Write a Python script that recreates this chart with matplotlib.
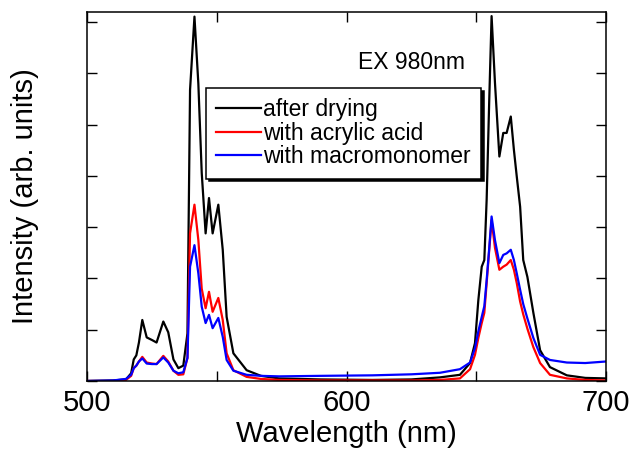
import matplotlib
matplotlib.use('Agg')
import matplotlib.pyplot as plt
from matplotlib.ticker import MultipleLocator, FixedLocator

plt.rcParams['font.family'] = ['Liberation Sans', 'DejaVu Sans']

# wavelength grid (nm)
wl = [500, 510, 515, 517, 518, 519, 520, 521.3, 523, 525, 526.8, 529.4, 531.3,
      533.3, 535.2, 537.1, 538.7, 539.7, 541.4, 542.9, 544.2, 545.7, 547.0,
      548.4, 550.6, 552.3, 553.8, 556.4, 561.5, 567, 574, 590, 610, 625, 636,
      643.7, 647.6, 649.5, 650.8, 652.1, 653.1, 654.0, 655.0, 655.9, 657.2,
      658.9, 660.4, 661.7, 663.3, 664.5, 665.6, 666.9, 668.1, 669.7, 672.0,
      674.6, 678.4, 684.9, 692, 700]

after_drying = [0.0, 0.01, 0.03, 0.15, 0.42, 0.5, 0.75, 1.19, 0.85, 0.8, 0.75,
                1.16, 0.95, 0.42, 0.25, 0.3, 0.93, 5.68, 7.11, 5.8, 4.06, 2.88,
                3.57, 2.88, 3.44, 2.56, 1.25, 0.54, 0.21, 0.1, 0.05, 0.03, 0.02,
                0.03, 0.07, 0.12, 0.35, 0.74, 1.58, 2.23, 2.36, 3.54, 5.49,
                7.12, 5.82, 4.38, 4.84, 4.84, 5.16, 4.51, 3.99, 3.4, 2.36, 2.03,
                1.33, 0.6, 0.27, 0.11, 0.06, 0.05]

acrylic_acid = [0.0, 0.0, 0.02, 0.1, 0.25, 0.3, 0.38, 0.47, 0.36, 0.34, 0.33,
                0.49, 0.38, 0.2, 0.12, 0.13, 0.45, 2.88, 3.44, 2.75, 1.8, 1.42,
                1.74, 1.35, 1.62, 1.19, 0.54, 0.21, 0.08, 0.04, 0.02, 0.01,
                0.01, 0.01, 0.02, 0.05, 0.23, 0.51, 0.84, 1.13, 1.33, 1.91,
                2.56, 3.14, 2.6, 2.17, 2.23, 2.27, 2.36, 2.17, 1.91, 1.55, 1.3,
                1.02, 0.66, 0.35, 0.12, 0.05, 0.02, 0.01]

macromonomer = [0.0, 0.01, 0.04, 0.12, 0.25, 0.3, 0.38, 0.44, 0.34, 0.33, 0.33,
                0.46, 0.36, 0.2, 0.15, 0.17, 0.45, 2.23, 2.65, 2.1, 1.45, 1.13,
                1.29, 1.03, 1.23, 0.86, 0.41, 0.2, 0.12, 0.1, 0.09, 0.1, 0.11,
                0.13, 0.16, 0.23, 0.36, 0.64, 0.97, 1.25, 1.46, 1.97, 2.6, 3.21,
                2.75, 2.3, 2.46, 2.49, 2.56, 2.36, 2.1, 1.78, 1.5, 1.22, 0.84,
                0.51, 0.41, 0.36, 0.35, 0.38]

fig = plt.figure(figsize=(6.32, 4.53), dpi=100)
ax = fig.add_axes([0.1377, 0.159, 0.8212, 0.8145])

ax.plot(wl, after_drying, color='black', lw=1.6, label='after drying')
ax.plot(wl, acrylic_acid, color='#ff0000', lw=1.6, label='with acrylic acid')
ax.plot(wl, macromonomer, color='#0000ff', lw=1.6, label='with macromonomer')

ax.set_xlim(500, 700)
ax.set_ylim(0, 7.2)

ax.xaxis.set_major_locator(FixedLocator([500, 600, 700]))
ax.xaxis.set_minor_locator(FixedLocator([550, 650]))
ax.yaxis.set_major_locator(MultipleLocator(1))
ax.tick_params(which='both', direction='in', top=True, right=True,
               length=7, width=1, labelsize=21, pad=6)
ax.tick_params(axis='y', labelleft=False)
for s in ax.spines.values():
    s.set_linewidth(1.1)

ax.set_xlabel('Wavelength (nm)', fontsize=21, labelpad=2)
ax.set_ylabel('Intensity (arb. units)', fontsize=21)
ax.yaxis.set_label_coords(-0.092, 0.5)

ax.text(0.522, 0.862, 'EX 980nm', transform=ax.transAxes, fontsize=16.5,
        va='center', ha='left')

leg = ax.legend(loc='upper left', bbox_to_anchor=(0.229, 0.794),
                borderaxespad=0, fontsize=16.5, frameon=True, fancybox=False,
                shadow={'color': 'black', 'alpha': 1},
                handlelength=1.95, handletextpad=0.1, labelspacing=0.02,
                borderpad=0.45)
leg.get_frame().set_edgecolor('black')
leg.get_frame().set_linewidth(1.1)

fig.savefig('out.png', dpi=100)
